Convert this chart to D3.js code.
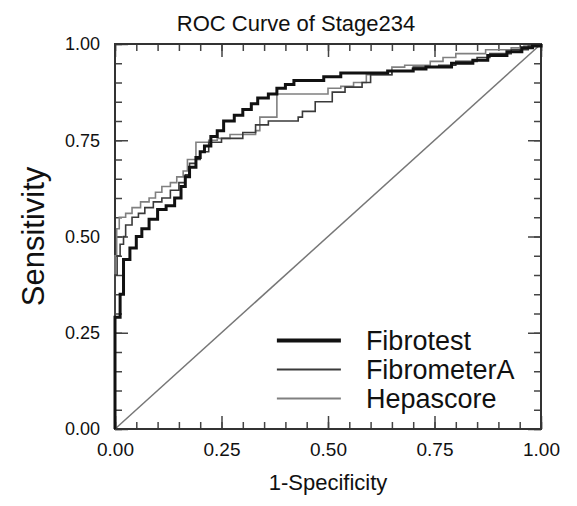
<!DOCTYPE html>
<html>
<head>
<meta charset="utf-8">
<script src="https://cdn.jsdelivr.net/npm/d3@7"></script>
<style>
  body { margin: 0; background: #fff; }
  svg text { font-family: "Liberation Sans", Arial, Helvetica, sans-serif; fill: #111; }
</style>
</head>
<body>
<div id="chart"></div>
<script>
// step points: [1-specificity, sensitivity] where the curve jumps
var fibrotest = [
  [0, 0], [0, 0.29], [0.012, 0.35], [0.02, 0.44], [0.035, 0.47], [0.05, 0.50],
  [0.063, 0.52], [0.08, 0.545], [0.10, 0.57], [0.12, 0.58], [0.14, 0.60],
  [0.155, 0.63], [0.165, 0.655], [0.175, 0.68], [0.19, 0.705], [0.2, 0.72],
  [0.21, 0.735], [0.225, 0.76], [0.24, 0.775], [0.255, 0.80], [0.28, 0.815],
  [0.3, 0.83], [0.32, 0.845], [0.335, 0.86], [0.36, 0.87], [0.38, 0.885],
  [0.4, 0.895], [0.42, 0.905], [0.49, 0.915], [0.53, 0.925], [0.64, 0.93],
  [0.7, 0.935], [0.73, 0.94], [0.79, 0.95], [0.84, 0.958], [0.875, 0.97],
  [0.92, 0.98], [0.955, 0.99], [0.98, 0.995], [1, 1]
];
var fibrometerA = [
  [0, 0], [0, 0.40], [0.005, 0.45], [0.012, 0.48], [0.02, 0.50], [0.025, 0.53],
  [0.04, 0.55], [0.055, 0.56], [0.07, 0.575], [0.09, 0.59], [0.11, 0.60],
  [0.13, 0.62], [0.15, 0.64], [0.165, 0.66], [0.175, 0.69], [0.19, 0.70],
  [0.2, 0.72], [0.22, 0.745], [0.25, 0.755], [0.3, 0.77], [0.33, 0.79],
  [0.36, 0.80], [0.43, 0.81], [0.44, 0.825], [0.47, 0.85], [0.51, 0.875],
  [0.54, 0.888], [0.58, 0.90], [0.6, 0.92], [0.65, 0.93], [0.7, 0.94],
  [0.76, 0.945], [0.8, 0.955], [0.85, 0.965], [0.88, 0.975], [0.93, 0.985],
  [0.97, 0.995], [1, 1]
];
var hepascore = [
  [0, 0], [0, 0.45], [0.004, 0.52], [0.01, 0.55], [0.025, 0.56], [0.04, 0.575],
  [0.06, 0.59], [0.08, 0.60], [0.095, 0.615], [0.11, 0.63], [0.13, 0.64],
  [0.145, 0.655], [0.16, 0.67], [0.17, 0.70], [0.19, 0.745], [0.22, 0.75],
  [0.24, 0.755], [0.27, 0.765], [0.33, 0.775], [0.34, 0.81], [0.38, 0.87],
  [0.5, 0.885], [0.53, 0.89], [0.56, 0.90], [0.59, 0.92], [0.65, 0.94],
  [0.68, 0.945], [0.74, 0.955], [0.77, 0.965], [0.8, 0.975], [0.87, 0.985],
  [0.93, 0.99], [0.96, 0.995], [1, 1]
];
var seriesNames = ["Fibrotest", "FibrometerA", "Hepascore"];
var majorTicks = [0, 0.25, 0.5, 0.75, 1];
var minorTicks = d3.range(0, 1.0001, 0.05);

var svgWidth = 577, svgHeight = 506;
var margin = { top: 44, right: 36, bottom: 77, left: 115 };
var width = svgWidth - margin.left - margin.right;
var height = svgHeight - margin.top - margin.bottom;

var svg = d3.select("#chart").append("svg")
  .attr("width", svgWidth)
  .attr("height", svgHeight);

var g = svg.append("g")
  .attr("transform", `translate(${margin.left}, ${margin.top})`);

var x = d3.scaleLinear().domain([0, 1]).range([0, width]);
var y = d3.scaleLinear().domain([0, 1]).range([height, 0]);

// minor ticks on all four sides
function tickStyle(sel) {
  sel.select(".domain").remove();
  sel.selectAll(".tick line").attr("stroke", "#444").attr("stroke-width", 1.5);
}
g.append("g").attr("transform", `translate(0, ${height})`)
  .call(d3.axisBottom(x).tickValues(minorTicks).tickSize(-7).tickFormat(""))
  .call(tickStyle);
g.append("g")
  .call(d3.axisTop(x).tickValues(minorTicks).tickSize(-7).tickFormat(""))
  .call(tickStyle);
g.append("g")
  .call(d3.axisLeft(y).tickValues(minorTicks).tickSize(-7).tickFormat(""))
  .call(tickStyle);
g.append("g").attr("transform", `translate(${width}, 0)`)
  .call(d3.axisRight(y).tickValues(minorTicks).tickSize(-7).tickFormat(""))
  .call(tickStyle);

// major ticks with labels
var xAxis = g.append("g").attr("transform", `translate(0, ${height})`)
  .call(d3.axisBottom(x).tickValues(majorTicks).tickSize(-13).tickPadding(14).tickFormat(d3.format(".2f")))
  .call(tickStyle);
xAxis.selectAll("text").style("font-size", "19px");

var yAxis = g.append("g")
  .call(d3.axisLeft(y).tickValues(majorTicks).tickSize(-13).tickPadding(15).tickFormat(d3.format(".2f")))
  .call(tickStyle);
yAxis.selectAll("text").style("font-size", "18px");

g.append("g")
  .call(d3.axisTop(x).tickValues(majorTicks).tickSize(-13).tickFormat(""))
  .call(tickStyle);
g.append("g").attr("transform", `translate(${width}, 0)`)
  .call(d3.axisRight(y).tickValues(majorTicks).tickSize(-13).tickFormat(""))
  .call(tickStyle);

// frame
g.append("rect")
  .attr("width", width).attr("height", height)
  .attr("fill", "none").attr("stroke", "#333").attr("stroke-width", 2);

// reference diagonal
g.append("line")
  .attr("x1", x(0)).attr("y1", y(0))
  .attr("x2", x(1)).attr("y2", y(1))
  .attr("stroke", "#777").attr("stroke-width", 1.5);

var line = d3.line()
  .x(d => x(d[0]))
  .y(d => y(d[1]))
  .curve(d3.curveStepAfter);

var styles = [
  { data: fibrotest, color: "#111", w: 3 },
  { data: fibrometerA, color: "#3a3a3a", w: 1.6 },
  { data: hepascore, color: "#808080", w: 1.6 }
];

styles.slice().reverse().forEach(s => {
  g.append("path")
    .datum(s.data)
    .attr("d", line)
    .attr("fill", "none")
    .attr("stroke", s.color)
    .attr("stroke-width", s.w);
});

// legend
var legend = g.append("g").attr("transform", `translate(${x(0.38)}, ${y(0.23)})`);
seriesNames.forEach((name, i) => {
  legend.append("line")
    .attr("x1", 0).attr("x2", 64)
    .attr("y1", i * 29).attr("y2", i * 29)
    .attr("stroke", styles[i].color)
    .attr("stroke-width", i === 0 ? 4 : 2);
  legend.append("text")
    .attr("x", 89).attr("y", i * 29 + 10)
    .style("font-size", "27px")
    .text(name);
});

// titles
svg.append("text")
  .attr("x", 296).attr("y", 31)
  .attr("text-anchor", "middle")
  .style("font-size", "22px")
  .text("ROC Curve of Stage234");

svg.append("text")
  .attr("x", margin.left + width / 2).attr("y", 490)
  .attr("text-anchor", "middle")
  .style("font-size", "22px")
  .text("1-Specificity");

svg.append("text")
  .attr("transform", `translate(44, ${margin.top + height / 2}) rotate(-90)`)
  .attr("text-anchor", "middle")
  .style("font-size", "31px")
  .text("Sensitivity");
</script>
</body>
</html>
